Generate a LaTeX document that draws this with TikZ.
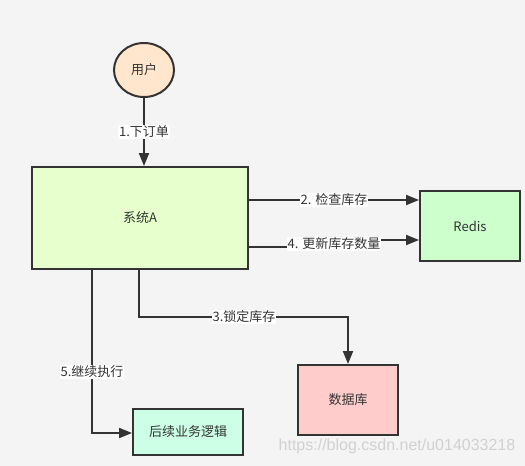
\documentclass[tikz,border=0pt]{standalone}
\usepackage{fontspec}
\setmainfont{Noto Sans CJK SC}
\newfontfamily\wmfont{Liberation Sans}
\usetikzlibrary{arrows.meta,shapes.geometric}
\definecolor{bg}{HTML}{F4F4F4}
\definecolor{ln}{HTML}{333333}
\definecolor{userfill}{HTML}{FFE6CC}
\definecolor{sysfill}{HTML}{E6FFCC}
\definecolor{redisfill}{HTML}{CCFFCC}
\definecolor{dbfill}{HTML}{FFCCCC}
\definecolor{nextfill}{HTML}{CCFFE6}
\tikzset{
  x=1pt, y=-1pt,
  box/.style={draw=ln, line width=2pt, text=ln, font=\fontsize{13}{15}\selectfont, inner sep=0pt},
  conn/.style={draw=ln, line width=2pt, -{Triangle[length=13pt,width=10pt]}},
  lbl/.style={fill=white, text=ln, font=\fontsize{13}{14}\selectfont, inner sep=1pt},
}
\begin{document}
\begin{tikzpicture}
\fill[bg] (0,0) rectangle (525,466);
\useasboundingbox (0,0) rectangle (525,466);

\node[box, ellipse, fill=userfill, minimum width=60pt, minimum height=54pt] (user) at (144,70) {用户};
\node[box, rectangle, fill=sysfill, minimum width=216pt, minimum height=102pt] (sys) at (140,218) {系统A};
\node[box, rectangle, fill=redisfill, minimum width=100pt, minimum height=70pt] (redis) at (470,226) {Redis};
\node[box, rectangle, fill=dbfill, minimum width=100pt, minimum height=70pt] (db) at (348,400) {数据库};
\node[box, rectangle, fill=nextfill, minimum width=110pt, minimum height=46pt] (next) at (188,432) {后续业务逻辑};

% 1
\draw[conn] (user.south) -- (sys.north -| user.south) node[lbl, pos=0.5] {1.下订单};
% 2
\coordinate (c2) at (334,200);
\draw[conn] (sys.east |- c2) -- (redis.west |- c2);
\node[lbl] (l2) at (c2) {2. 检查库存};
% 4
\coordinate (c4a) at (334,247);
\coordinate (c4b) at (334,240);
\draw[conn] (sys.east |- c4a) -- (c4a) -- (c4b) -- (redis.west |- c4b);
\node[lbl] (l4) at (334,244) {4. 更新库存数量};
% 3
\coordinate (c3a) at (139,317);
\coordinate (c3b) at (348,317);
\draw[conn] (sys.south -| c3a) -- (c3a) -- (c3b) -- (db.north);
\node[lbl] (l3) at (244,317) {3.锁定库存};
% 5
\coordinate (c5) at (92,433);
\draw[conn] (sys.south -| c5) -- (c5) -- (next.west |- c5);
\node[lbl] (l5) at (92,372) {5.继续执行};

% watermark
\node[text=black!18, font=\wmfont\fontsize{16}{18}\selectfont, inner sep=0pt] (wm) at (397,446) {https://blog.csdn.net/u014033218};
\end{tikzpicture}
\end{document}
